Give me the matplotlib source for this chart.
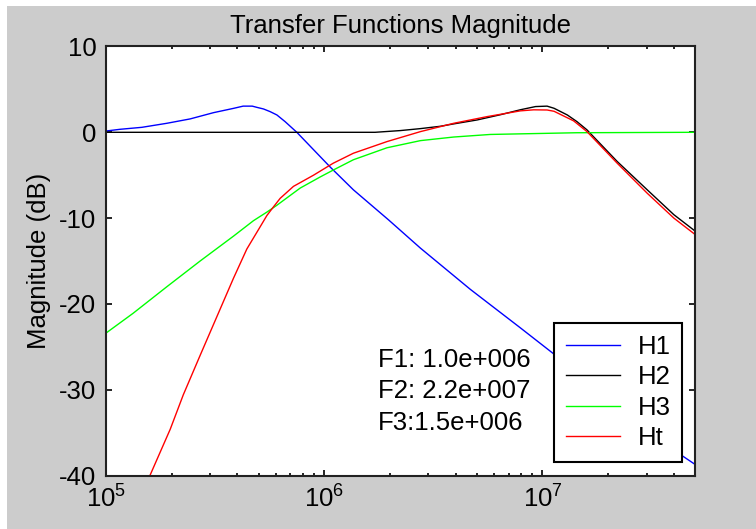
import numpy as np
import matplotlib
matplotlib.use('Agg')
import matplotlib.pyplot as plt
from matplotlib.patches import Rectangle

# values (frequency in Hz, magnitude in dB)
h1_freq = [1.0e5, 1.16e5, 1.46e5, 1.90e5, 2.43e5, 3.11e5, 3.84e5, 4.25e5, 4.68e5,
           4.91e5, 5.27e5, 5.65e5, 6.07e5, 6.62e5, 7.49e5, 1.07e6, 1.36e6, 1.97e6,
           2.76e6, 4.67e6, 7.93e6, 1.11e7, 2.0e7, 3.0e7, 4.37e7, 5.0e7]
h1_db = [0.15, 0.35, 0.58, 1.05, 1.56, 2.29, 2.79, 3.05, 3.05,
         2.91, 2.72, 2.41, 2.02, 1.24, 0.0, -4.1, -6.7, -10.2,
         -13.5, -18.3, -22.8, -25.7, -30.9, -34.4, -37.7, -38.7]

h2_freq = [1.0e5, 1.71e6, 2.23e6, 2.76e6, 3.40e6, 3.92e6, 5.02e6, 6.42e6, 7.93e6,
           9.3e6, 1.05e7, 1.13e7, 1.30e7, 1.44e7, 1.60e7, 2.20e7, 3.02e7, 4.00e7, 5.0e7]
h2_db = [0.0, 0.0, 0.2, 0.43, 0.7, 0.98, 1.44, 2.05, 2.63,
         3.0, 3.05, 2.8, 2.02, 1.24, 0.28, -3.4, -6.7, -9.6, -11.5]

h3_freq = [1.0e5, 1.33e5, 1.90e5, 2.70e5, 3.84e5, 4.74e5, 5.46e5, 6.07e5, 7.76e5,
           9.59e5, 1.10e6, 1.36e6, 1.94e6, 2.76e6, 3.92e6, 5.77e6, 1.44e7, 5.0e7]
h3_db = [-23.4, -21.1, -18.0, -15.0, -12.1, -10.3, -9.3, -8.5, -6.5,
         -5.2, -4.4, -3.2, -1.8, -0.97, -0.55, -0.25, -0.05, 0.0]

ht_freq = [1.59e5, 1.97e5, 2.26e5, 2.70e5, 3.22e5, 3.84e5, 4.42e5, 5.09e5, 5.46e5,
           5.85e5, 6.28e5, 7.23e5, 8.93e5, 1.10e6, 1.36e6, 1.94e6, 2.76e6, 3.92e6,
           5.58e6, 7.93e6, 9.12e6, 1.05e7, 1.13e7, 1.39e7, 1.60e7, 2.20e7, 3.02e7,
           4.00e7, 5.0e7]
ht_db = [-40.0, -34.6, -30.6, -26.0, -21.5, -17.0, -13.6, -11.0, -9.7,
         -8.7, -7.7, -6.3, -5.0, -3.6, -2.44, -1.08, 0.08, 1.05,
         1.83, 2.5, 2.62, 2.6, 2.45, 1.33, 0.08, -3.6, -7.1,
         -10.0, -11.9]

notes = ['F1: 1.0e+006', 'F2: 2.2e+007', 'F3:1.5e+006']

plt.rcParams['font.family'] = ['Liberation Sans', 'DejaVu Sans']
plt.rcParams['mathtext.fontset'] = 'custom'
plt.rcParams['mathtext.rm'] = 'Liberation Sans'
plt.rcParams['mathtext.it'] = 'Liberation Sans'
plt.rcParams['axes.unicode_minus'] = False
fs = 18.5

fig = plt.figure(figsize=(7.56, 5.29), dpi=100, facecolor='white')
# grey window area (white strip at top and left like the screenshot)
fig.patches.append(Rectangle((7 / 756, 0), 1, 1 - 6 / 529, transform=fig.transFigure,
                             facecolor='#cccccc', edgecolor='none', zorder=-1))

ax = fig.add_axes([0.1402, 0.1011, 0.7791, 0.8110])
ax.plot(h1_freq, h1_db, color='#0000ff', lw=1.0, label='H1')
ax.plot(h2_freq, h2_db, color='black', lw=1.0, label='H2')
ax.plot(h3_freq, h3_db, color='#00ff00', lw=1.0, label='H3')
ax.plot(ht_freq, ht_db, color='#ff0000', lw=1.0, label='Ht')

ax.set_xscale('log')
ax.set_xlim(1e5, 5e7)
ax.set_ylim(-40, 10)
ax.set_yticks([-40, -30, -20, -10, 0, 10])
ax.set_xticks([1e5, 1e6, 1e7])

ax.tick_params(which='both', direction='in', top=True, right=True, labelsize=fs, width=1.2)
ax.tick_params(which='major', length=4, pad=7)
ax.tick_params(which='minor', length=2.5)
for sp in ax.spines.values():
    sp.set_linewidth(1.5)
    sp.set_color('#222222')

ax.set_title('Transfer Functions Magnitude', fontsize=fs, pad=10)
ax.set_ylabel('Magnitude (dB)', fontsize=fs, labelpad=6)

ys = [0.2536, 0.18, 0.106]
for t, y in zip(notes, ys):
    ax.text(0.4618, y, t, transform=ax.transAxes, fontsize=fs, va='baseline', ha='left')

leg = ax.legend(loc='lower right', bbox_to_anchor=(0.9784, 0.032), borderaxespad=0,
                fontsize=fs, fancybox=False, framealpha=1, edgecolor='black',
                handlelength=2.1, handletextpad=0.7, borderpad=0.45, labelspacing=0.25)
leg.get_frame().set_linewidth(1.5)

fig.savefig('out.png', dpi=100, facecolor=fig.get_facecolor())
